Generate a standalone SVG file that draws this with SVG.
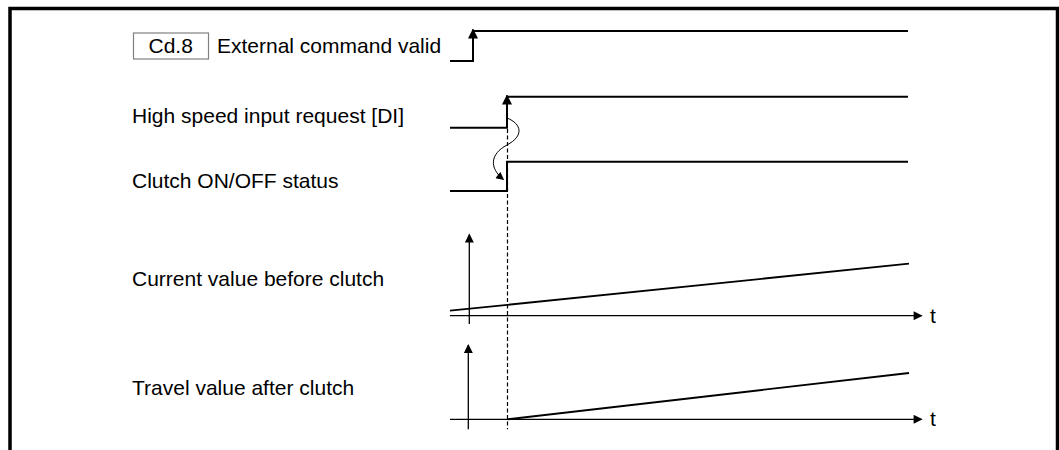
<svg xmlns="http://www.w3.org/2000/svg" width="1059" height="450" viewBox="0 0 1059 450">
<style>
  text { font-family: "Liberation Sans", Arial, sans-serif; font-size: 21px; fill: #000; }
  .sig { fill: none; stroke: #000; stroke-width: 2; }
  .axis { fill: none; stroke: #000; stroke-width: 1.3; }
  .slope { fill: none; stroke: #000; stroke-width: 1.8; }
  .dash { fill: none; stroke: #000; stroke-width: 1.2; stroke-dasharray: 4 2.5; }
  .thin { fill: none; stroke: #000; stroke-width: 1; }
</style>
<defs>
  <marker id="arrSig" viewBox="0 0 10 10" refX="9" refY="5" markerUnits="userSpaceOnUse" markerWidth="10" markerHeight="10" orient="auto">
    <path d="M0,0 L10,5 L0,10 z" fill="#000"/>
  </marker>
  <marker id="arrAxis" viewBox="0 0 10 10" refX="9" refY="5" markerUnits="userSpaceOnUse" markerWidth="10" markerHeight="9" orient="auto">
    <path d="M0,0 L10,5 L0,10 z" fill="#000"/>
  </marker>
  <marker id="arrSmall" viewBox="0 0 10 10" refX="9" refY="5" markerUnits="userSpaceOnUse" markerWidth="9" markerHeight="8" orient="auto">
    <path d="M0,0 L10,5 L0,10 z" fill="#000"/>
  </marker>
</defs>
<rect width="1059" height="450" fill="#fff"/>
<path d="M10,452 V8.5 H1057.5 V452" fill="none" stroke="#000" stroke-width="3.5" stroke-linejoin="miter"/>

<g id="cd8">
  <rect x="133.5" y="33" width="75" height="26" fill="none" stroke="#808080" stroke-width="1.2"/>
  <text x="170.7" y="53.3" text-anchor="middle">Cd.8</text>
  <text x="217" y="53.3">External command valid</text>
  <polyline class="sig" points="450,61 473,61 473,31 908,31"/>
  <line class="sig" x1="473" y1="40" x2="473" y2="29.5" marker-end="url(#arrSig)"/>
</g>

<g id="hsi">
  <text x="132" y="123">High speed input request [DI]</text>
  <polyline class="sig" points="450,127.7 507,127.7 507,96.7 908,96.7"/>
  <line class="sig" x1="507" y1="105" x2="507" y2="95.5" marker-end="url(#arrSig)"/>
</g>

<g id="clutch">
  <text x="132" y="188">Clutch ON/OFF status</text>
  <polyline class="sig" points="450,191 507,191 507,161.7 908,161.7"/>
</g>

<g id="current">
  <text x="132" y="286">Current value before clutch</text>
  <line class="axis" x1="469.3" y1="324" x2="469.3" y2="234.5" marker-end="url(#arrAxis)"/>
  <line class="axis" x1="450" y1="315.7" x2="921.7" y2="315.7" marker-end="url(#arrAxis)"/>
  <line class="slope" x1="450" y1="310.7" x2="909" y2="263.7"/>
  <text x="930" y="322.5">t</text>
</g>

<g id="travel">
  <text x="132" y="395">Travel value after clutch</text>
  <line class="axis" x1="468.3" y1="429.3" x2="468.3" y2="345" marker-end="url(#arrAxis)"/>
  <line class="axis" x1="450" y1="419.3" x2="921.7" y2="419.3" marker-end="url(#arrAxis)"/>
  <line class="slope" x1="507.5" y1="419.3" x2="909" y2="373"/>
  <text x="930" y="426">t</text>
</g>

<g id="connectors">
  <line class="dash" x1="507.5" y1="129" x2="507.5" y2="429.3"/>
  <path class="thin" d="M507,118 C522,124 524,136 507,145 C490,154 489,168 503.5,179.5" marker-end="url(#arrSmall)"/>
</g>
</svg>
